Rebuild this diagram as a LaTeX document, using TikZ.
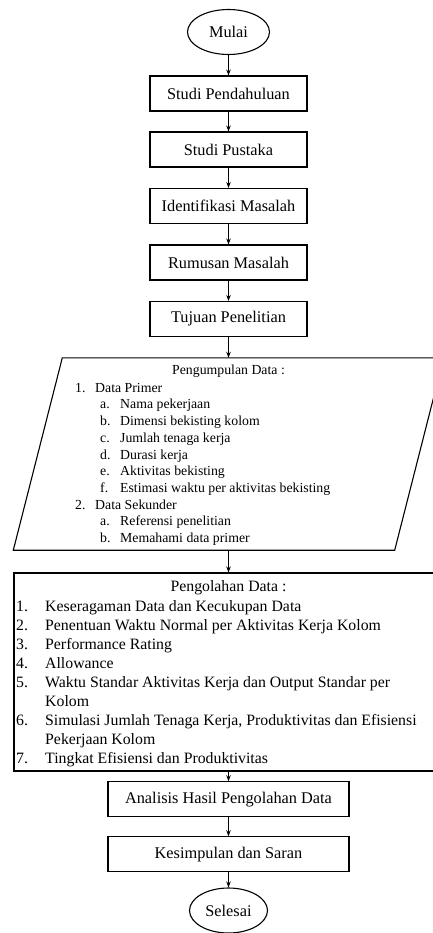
\documentclass[tikz,border=0pt]{standalone}
\usepackage{fontspec}
\setmainfont{Liberation Serif}
\usetikzlibrary{arrows.meta,calc,shapes.geometric,positioning}

\begin{document}
\begin{tikzpicture}[x=1pt,y=-1pt,
  box/.style={draw,line width=1.1pt,minimum width=157pt,minimum height=35pt,inner sep=0pt,font=\fontsize{16.3}{19}\selectfont},
  widebox/.style={box,minimum width=241pt},
  terminal/.style={draw,ellipse,line width=1.1pt,minimum width=82pt,minimum height=45pt,inner sep=0pt,font=\fontsize{16.3}{19}\selectfont},
  arrow/.style={line width=0.9pt,-{Stealth[length=6pt,width=4.5pt]}},
  kumpultext/.style={anchor=base west,inner sep=0pt,font=\fontsize{13.8}{16}\selectfont},
  olahtext/.style={anchor=base west,inner sep=0pt,font=\fontsize{15.8}{19}\selectfont}]
\useasboundingbox (0,0) rectangle (433,933);
\clip (0,0) rectangle (433,933);

\node[terminal] (mulai) at (228.5,32) {Mulai};
\node[box] (pendahuluan) at (228.5,93.5) {Studi Pendahuluan};
\node[box] (pustaka) at (228.5,149.5) {Studi Pustaka};
\node[box] (identifikasi) at (228.5,206) {Identifikasi Masalah};
\node[box] (rumusan) at (228.5,262.5) {Rumusan Masalah};
\node[box] (tujuan) at (228.5,319) {Tujuan Penelitian};

\node[minimum width=381pt,minimum height=192pt,inner sep=0pt] (kumpul) at (228.5,454) {};
\draw[line width=1.1pt] ($(kumpul.south west)+(-24.5,0)$) -- ($(kumpul.north west)+(24.5,0)$)
  -- ($(kumpul.north east)+(24.5,0)$) -- ($(kumpul.south east)+(-24.5,0)$) -- cycle;
\node[inner sep=0pt,font=\fontsize{13.8}{16}\selectfont] (kumpuljudul) at (228.5,371.5) {Pengumpulan Data :};
\foreach \i/\x/\lbl/\txt in {1/75/1./Data Primer, 2/100/a./Nama pekerjaan,
  3/100/b./Dimensi bekisting kolom, 4/100/c./Jumlah tenaga kerja, 5/100/d./Durasi kerja,
  6/100/e./Aktivitas bekisting, 7/100/f./Estimasi waktu per aktivitas bekisting,
  8/75/2./Data Sekunder, 9/100/a./Referensi penelitian, 10/100/b./Memahami data primer}
  \node[kumpultext] (kumpul\i) at (\x,{371.5+16.7*\i+4}) {\makebox[20pt][l]{\lbl}\txt};

\node[draw,line width=1.1pt,minimum width=429pt,minimum height=198pt,inner sep=0pt] (olah) at (228.5,672) {};
\node[inner sep=0pt,font=\fontsize{15.8}{19}\selectfont] (olahjudul) at (228.5,587.7) {Pengolahan Data :};
\foreach \i/\lbl/\txt in {1/1./Keseragaman Data dan Kecukupan Data,
  2/2./Penentuan Waktu Normal per Aktivitas Kerja Kolom, 3/3./Performance Rating,
  4/4./Allowance, 5/5./Waktu Standar Aktivitas Kerja dan Output Standar per, 6//Kolom,
  7/6./{Simulasi Jumlah Tenaga Kerja, Produktivitas dan Efisiensi}, 8//Pekerjaan Kolom,
  9/7./Tingkat Efisiensi dan Produktivitas}
  \node[olahtext] (olah\i) at (16,{587.7+19.03*\i+4.5}) {\makebox[29pt][l]{\lbl}\txt};

\node[widebox] (analisis) at (228.5,799.3) {Analisis Hasil Pengolahan Data};
\node[widebox] (kesimpulan) at (228.5,854.3) {Kesimpulan dan Saran};
\node[terminal,minimum width=78pt] (selesai) at (228.5,910.5) {Selesai};

\draw[arrow] (mulai.south) -- (pendahuluan.north);
\draw[arrow] (pendahuluan.south) -- (pustaka.north);
\draw[arrow] (pustaka.south) -- (identifikasi.north);
\draw[arrow] (identifikasi.south) -- (rumusan.north);
\draw[arrow] (rumusan.south) -- (tujuan.north);
\draw[arrow] (tujuan.south) -- (kumpul.north);
\draw[arrow] (kumpul.south) -- (olah.north);
\draw[arrow] (olah.south) -- (analisis.north);
\draw[arrow] (analisis.south) -- (kesimpulan.north);
\draw[arrow] (kesimpulan.south) -- (selesai.north);
\end{tikzpicture}
\end{document}
